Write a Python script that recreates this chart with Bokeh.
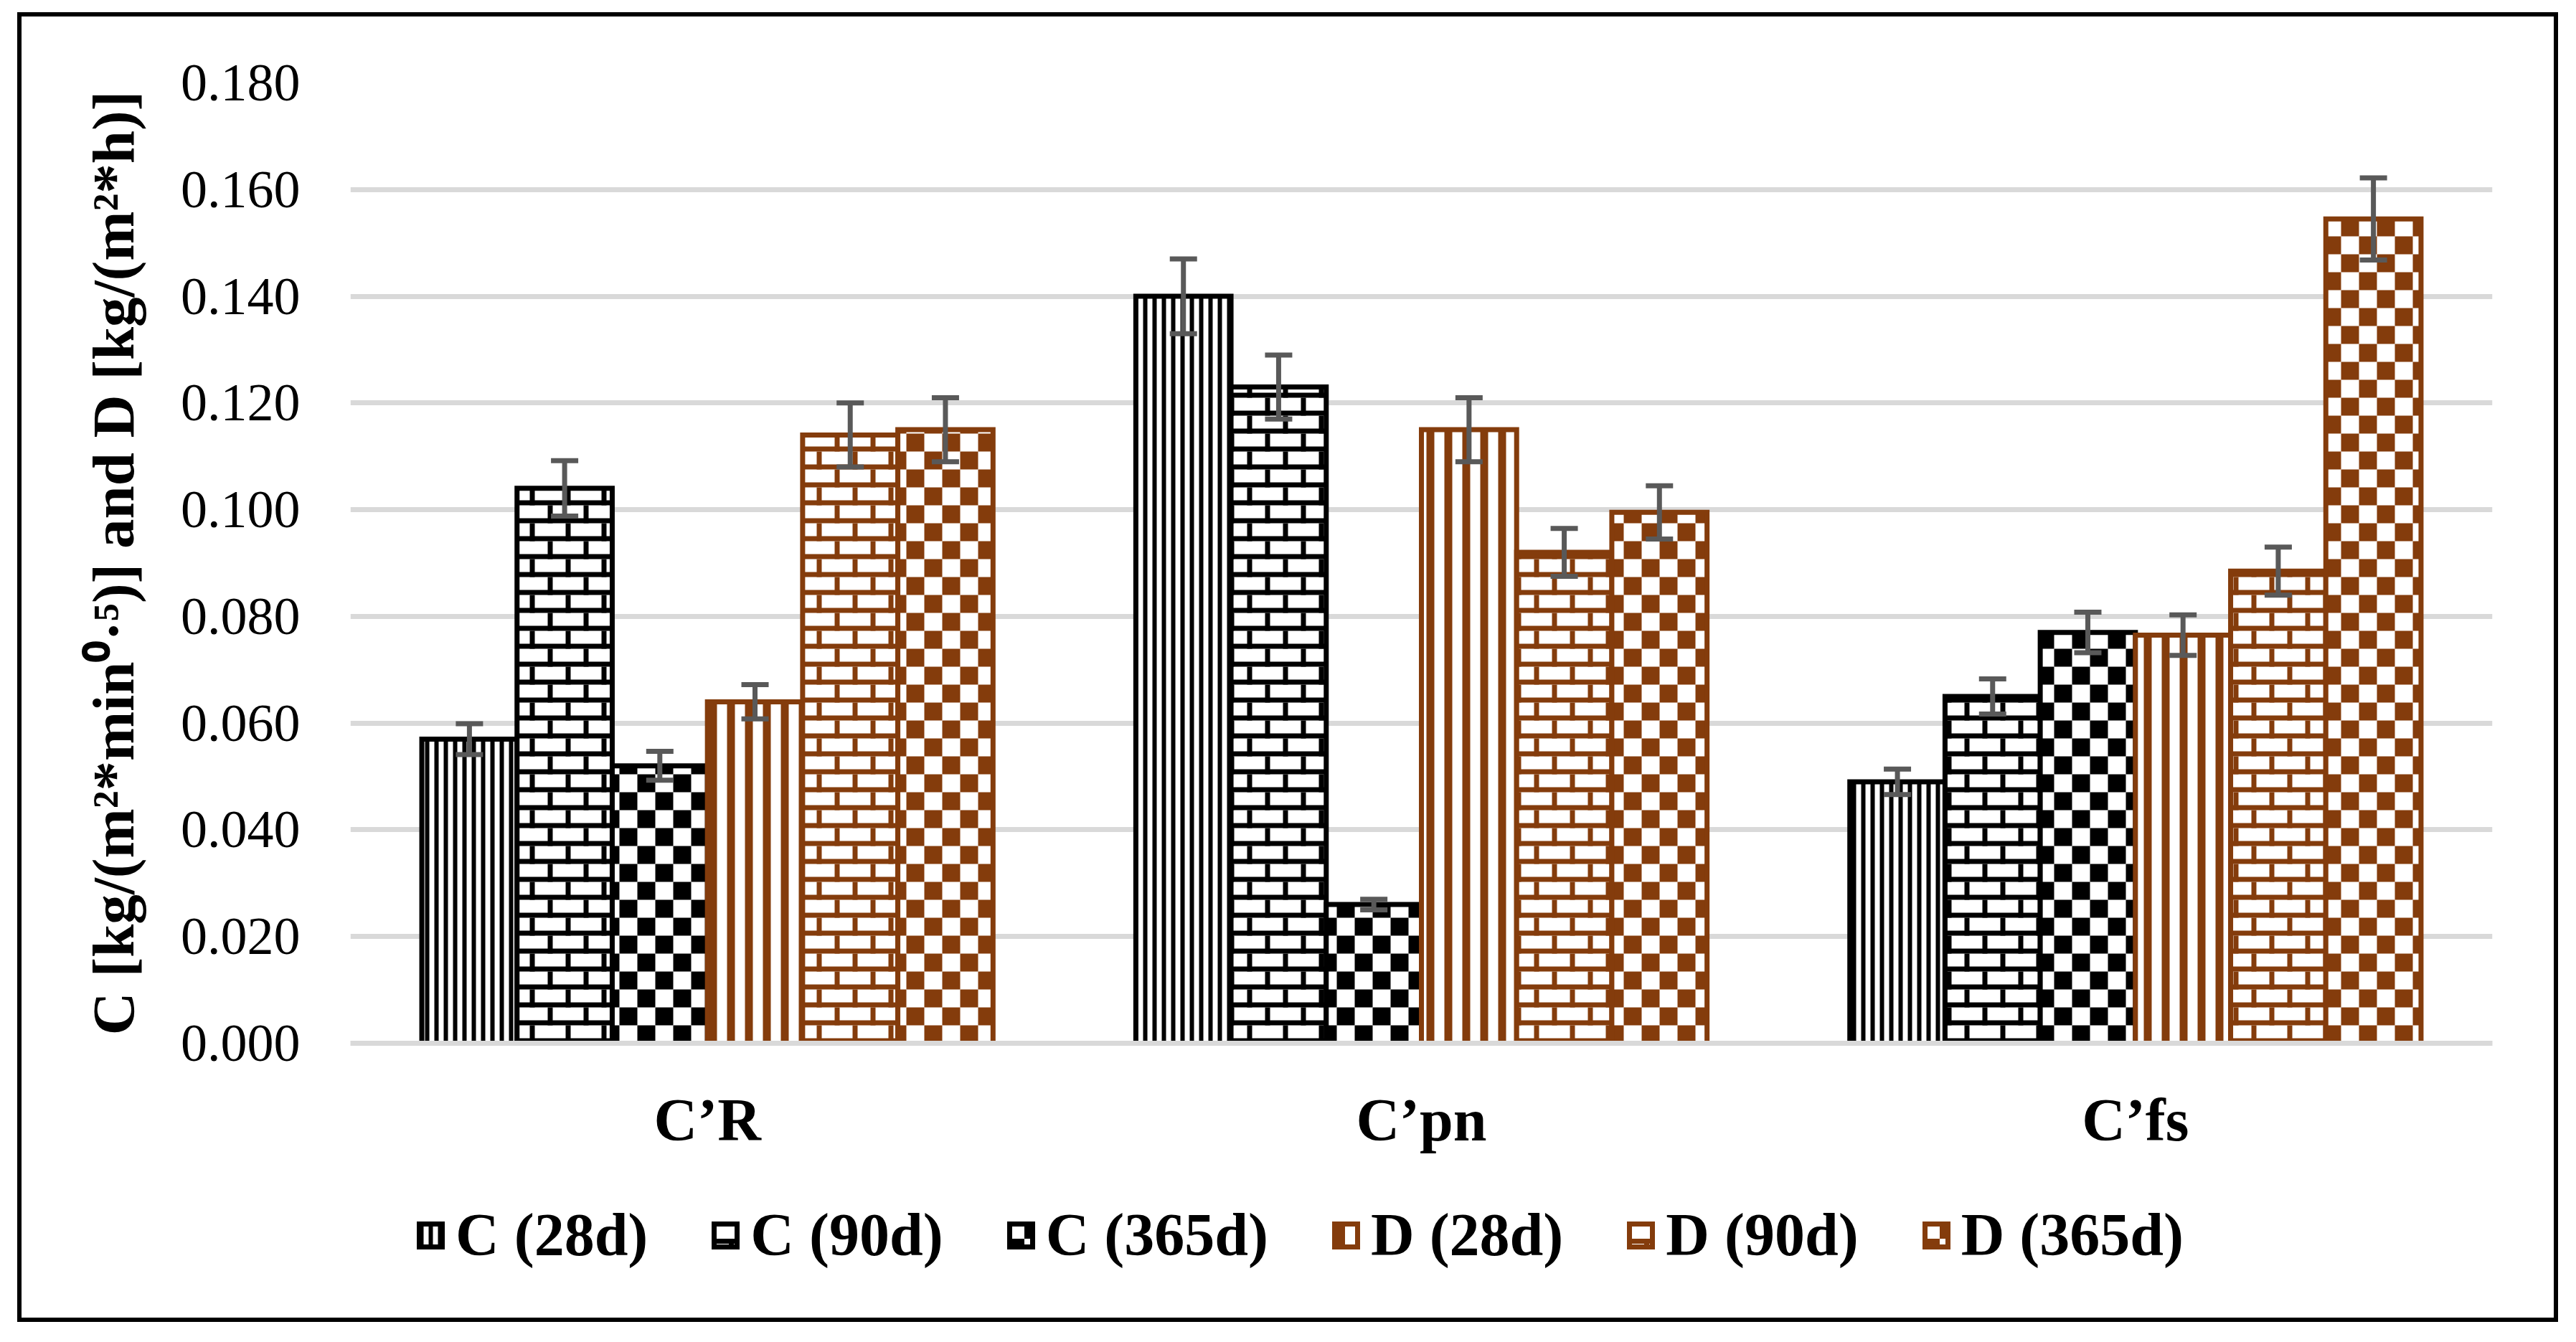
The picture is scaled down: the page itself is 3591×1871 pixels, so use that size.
import base64
from bokeh.plotting import figure
from bokeh.models import (FactorRange, Range1d, ColumnDataSource, Whisker, TeeHead, Legend,
                          LegendItem, FixedTicker, PrintfTickFormatter, ImageURLTexture, Div)
from bokeh.core.properties import value
from bokeh.embed import file_html
from bokeh.resources import INLINE

# ---------------- data ----------------
CATEGORIES = ["C’R", "C’pn", "C’fs"]
SERIES = ["C (28d)", "C (90d)", "C (365d)", "D (28d)", "D (90d)", "D (365d)"]

C_28 = [0.057, 0.140, 0.049]
C_90 = [0.104, 0.123, 0.065]
C_365 = [0.052, 0.026, 0.077]
D_28 = [0.064, 0.115, 0.0765]
D_90 = [0.114, 0.092, 0.0885]
D_365 = [0.115, 0.0995, 0.1545]

C_28_ERR = [0.0029, 0.007, 0.0024]
C_90_ERR = [0.0052, 0.006, 0.0033]
C_365_ERR = [0.0027, 0.0010, 0.0038]
D_28_ERR = [0.0032, 0.006, 0.0038]
D_90_ERR = [0.006, 0.0045, 0.0045]
D_365_ERR = [0.006, 0.005, 0.0077]

Y_TICKS = [0.000, 0.020, 0.040, 0.060, 0.080, 0.100, 0.120, 0.140, 0.160, 0.180]
Y_LABEL = "C [kg/(m²*min⁰·⁵)] and D [kg/(m²*h)]"

VALUES = [C_28, C_90, C_365, D_28, D_90, D_365]
ERRORS = [C_28_ERR, C_90_ERR, C_365_ERR, D_28_ERR, D_90_ERR, D_365_ERR]

# ---------------- styles ----------------
BLACK = "#000000"
BROWN = "#843C0C"
GRID = "#D9D9D9"
ERRC = "#595959"
FONT = "Liberation Serif"

# (pattern kind, period px, stroke px, colour)
STYLES = [
    ("vline", 13, 6, BLACK),
    ("brick", 50, 7, BLACK),
    ("check", 50, 25, BLACK),
    ("vline", 25, 11, BROWN),
    ("brick", 50, 7, BROWN),
    ("check", 50, 25, BROWN),
]

W, H = 3566, 1850
MB_L, MB_R, MB_T, MB_B = 473, 107, 107, 404
FRAME_W = W - MB_L - MB_R
FRAME_H = H - MB_T - MB_B
Y_MAX = 0.18
PX_X = FRAME_W / len(CATEGORIES)
PX_Y = FRAME_H / Y_MAX

p = figure(x_range=FactorRange(factors=CATEGORIES), y_range=Range1d(0, Y_MAX),
           width=W, height=H, output_backend="svg", toolbar_location=None,
           min_border_left=MB_L, min_border_right=MB_R, min_border_top=MB_T,
           min_border_bottom=MB_B)
p.styles = {"position": "absolute", "left": "15px", "top": "8px"}
p.background_fill_color = "white"
p.border_fill_color = "white"
p.outline_line_color = None


def pattern_quads(kind, period, stroke, Lp, Rp, Tp):
    out = []
    if kind == "vline":
        k = int(Lp // period) - 1
        while k * period < Rp:
            l, r = max(k * period, Lp), min(k * period + stroke, Rp)
            if r > l:
                out.append((l, r, 0.0, Tp))
            k += 1
    elif kind == "brick":
        rh = period / 2
        row = 0
        while row * rh < Tp:
            y0 = row * rh
            out.append((Lp, Rp, y0, min(y0 + stroke, Tp)))
            sh = (row % 2) * rh
            m = int((Lp - sh) // period) - 1
            while sh + m * period < Rp:
                x0 = sh + m * period
                l, r = max(x0, Lp), min(x0 + stroke, Rp)
                if r > l:
                    out.append((l, r, y0, min(y0 + rh, Tp)))
                m += 1
            row += 1
    else:
        s = period / 2
        row = 0
        while row * s < Tp:
            c = int(Lp // s) - 1
            while c * s < Rp:
                if (c + row) % 2 == 0:
                    l, r = max(c * s, Lp), min((c + 1) * s, Rp)
                    if r > l:
                        out.append((l, r, row * s, min((row + 1) * s, Tp)))
                c += 1
            row += 1
    return out


def tile_url(kind, period, stroke, color):
    s = period
    if kind == "brick":
        h = s / 2
        body = (f'<rect x="0" y="0" width="{s}" height="{stroke}" fill="{color}"/>'
                f'<rect x="0" y="{h}" width="{s}" height="{stroke}" fill="{color}"/>'
                f'<rect x="0" y="0" width="{stroke}" height="{h}" fill="{color}"/>'
                f'<rect x="{h}" y="{h}" width="{stroke}" height="{h}" fill="{color}"/>')
    else:
        h = s / 2
        body = (f'<rect x="{h}" y="0" width="{h}" height="{h}" fill="{color}"/>'
                f'<rect x="0" y="{h}" width="{h}" height="{h}" fill="{color}"/>')
    svg = f'<svg xmlns="http://www.w3.org/2000/svg" width="{s}" height="{s}">{body}</svg>'
    return "data:image/svg+xml;base64," + base64.b64encode(svg.encode()).decode()


BAR_W = 0.8 / 6
for i, (vals, errs) in enumerate(zip(VALUES, ERRORS)):
    kind, period, stroke, col = STYLES[i]
    off = (i - 2.5) * BAR_W
    xs = [j + 0.5 + off for j in range(len(CATEGORIES))]
    src = ColumnDataSource(dict(x=xs, val=vals,
                                up=[v + e for v, e in zip(vals, errs)],
                                lo=[v - e for v, e in zip(vals, errs)]))
    # white body (hides the grid)
    p.vbar(x="x", top="val", bottom=0, width=BAR_W, source=src,
           fill_color="white", line_color=None)
    # pattern
    ql, qr, qb, qt = [], [], [], []
    for x, v in zip(xs, vals):
        Lp, Rp, Tp = (x - BAR_W / 2) * PX_X, (x + BAR_W / 2) * PX_X, v * PX_Y
        for (l, r, b, t) in pattern_quads(kind, period, stroke, Lp, Rp, Tp):
            ql.append(l / PX_X); qr.append(r / PX_X)
            qb.append(b / PX_Y); qt.append(t / PX_Y)
    p.quad(left=ql, right=qr, bottom=qb, top=qt, fill_color=col, line_color=None)
    # outline
    p.vbar(x="x", top="val", bottom=0, width=BAR_W, source=src,
           fill_color=None, line_color=col, line_width=7, line_join="miter")
    # error bars
    wh = Whisker(source=src, base="x", upper="up", lower="lo",
                 line_color=ERRC, line_width=7, level="overlay",
                 upper_head=TeeHead(size=38, line_color=ERRC, line_width=7),
                 lower_head=TeeHead(size=38, line_color=ERRC, line_width=7))
    p.add_layout(wh)

# axes
p.yaxis.ticker = FixedTicker(ticks=Y_TICKS)
p.yaxis.formatter = PrintfTickFormatter(format="%.3f")
p.yaxis.axis_line_color = None
p.yaxis.major_tick_line_color = None
p.yaxis.minor_tick_line_color = None
p.yaxis.major_label_standoff = 64
p.yaxis.major_label_text_font = FONT
p.yaxis.major_label_text_font_size = "74px"
p.yaxis.major_label_text_color = "black"
p.yaxis.axis_label = Y_LABEL
p.yaxis.axis_label_text_font = FONT
p.yaxis.axis_label_text_font_style = "bold"
p.yaxis.axis_label_text_font_size = "83px"
p.yaxis.axis_label_text_color = "black"
p.yaxis.axis_label_standoff = 45

p.xaxis.axis_line_color = GRID
p.xaxis.axis_line_width = 7
p.xaxis.major_tick_line_color = None
p.xaxis.minor_tick_line_color = None
p.xaxis.major_label_standoff = 54
p.xaxis.major_label_text_font = FONT
p.xaxis.major_label_text_font_style = "bold"
p.xaxis.major_label_text_font_size = "84px"
p.xaxis.major_label_text_color = "black"

p.xgrid.grid_line_color = None
p.ygrid.grid_line_color = GRID
p.ygrid.grid_line_width = 7

# ---------------- legend strip ----------------
LW, LH = 2900, 150
pl = figure(x_range=Range1d(0, 1), y_range=Range1d(0, 1), width=LW, height=LH,
            output_backend="svg", toolbar_location=None, min_border=0,
            x_axis_location=None, y_axis_location=None)
pl.styles = {"position": "absolute", "left": "488px", "top": "1650px"}
pl.grid.visible = False
pl.outline_line_color = None
pl.background_fill_color = "white"
pl.border_fill_color = "white"

# legend proxies: tiny glyphs hidden under a white mask, only their swatches show
legend_renderers = []
for i in range(6):
    kind, period, stroke, col = STYLES[i]
    if kind == "vline":
        lr = pl.vbar(x=[0.5], bottom=[0.45], top=[0.55], width=0.002, fill_color="white",
                     line_color=col, line_width=7, line_join="miter",
                     hatch_pattern=value("vertical_line"), hatch_color=col,
                     hatch_scale=period, hatch_weight=stroke)
    else:
        tex = ImageURLTexture(url=tile_url(kind, period, stroke, col))
        lr = pl.vbar(x=[0.5], bottom=[0.45], top=[0.55], width=0.002, fill_color="white",
                     line_color=col, line_width=7, line_join="miter",
                     hatch_pattern=value("tile"), hatch_extra={"tile": tex})
    legend_renderers.append(lr)
pl.quad(left=[0], right=[1], bottom=[0], top=[1], fill_color="white", line_color=None)

items = [LegendItem(label=SERIES[i], renderers=[legend_renderers[i]]) for i in range(6)]
legend = Legend(items=items, orientation="horizontal", location=(92, 30),
                glyph_width=40, glyph_height=40, label_text_font=FONT,
                label_text_font_style="bold", label_text_font_size="84px",
                label_text_color="black", spacing=88, label_standoff=15,
                padding=0, margin=0, border_line_color=None, background_fill_alpha=0)
pl.add_layout(legend, "center")

# ---------------- outer chart border ----------------
border = Div(text="", width=3542, height=1826,
             styles={"position": "absolute", "left": "19px", "top": "12px",
                     "border": "6px solid black", "box-sizing": "border-box",
                     "z-index": "10", "pointer-events": "none"})

open("out.html", "w").write(file_html([p, pl, border], INLINE))
